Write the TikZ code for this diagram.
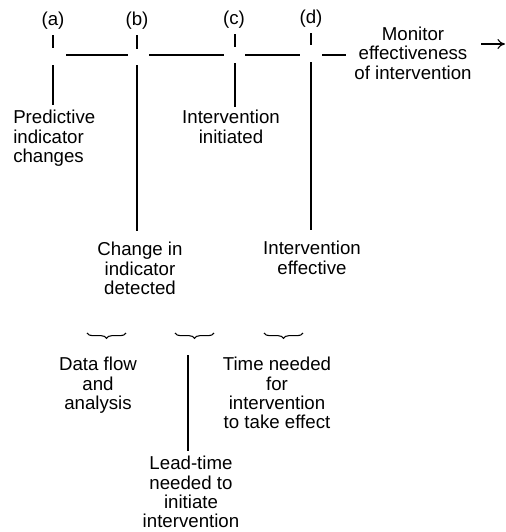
\documentclass[tikz,border=0pt]{standalone}
\usepackage{fontspec}
\setmainfont{Liberation Sans}
\usetikzlibrary{arrows.meta,positioning,calc,decorations.pathreplacing}

\begin{document}
\begin{tikzpicture}[x=0.75pt,y=-0.75pt]

\tikzset{
  lbl/.style  = {inner sep=0pt, font=\fontsize{14}{14.5}\selectfont},
  txt/.style  = {lbl, align=center, anchor=north},
  ln/.style   = {line width=0.8pt},
  stem/.style = {ln, shorten >=4pt},
  brc/.style  = {ln, decorate, decoration={brace, mirror, amplitude=4pt}},
  flow/.style = {ln, -{To[length=2mm,width=2.6mm]}},
}

\useasboundingbox (0,0) rectangle (506,532);

% time points
\node[lbl] (la) at (53,21) {(a)};
\node[lbl] (lb) at (137,21) {(b)};
\node[lbl] (lc) at (234,20) {(c)};
\node[lbl] (ld) at (311,19) {(d)};
\coordinate (xa) at (53,55);
\coordinate (xb) at (137,55);
\coordinate (xc) at (235,55);
\coordinate (xd) at (311,55);
\draw[ln] ($(xa)+(0,-20)$) -- ($(xa)+(0,-7)$);
\draw[ln] ($(xb)+(0,-20)$) -- ($(xb)+(0,-6)$);
\draw[ln] ($(xc)+(0,-21)$) -- ($(xc)+(0,-8)$);
\draw[ln] ($(xd)+(0,-22)$) -- ($(xd)+(0,-10)$);

% monitoring
\node[lbl, align=center] (mon) at (413,53) {Monitor\\effectiveness\\of intervention};
\coordinate (mend) at (505,44);
\draw[flow, shorten <=7pt] (mon.east |- mend) -- (mend);

% time axis
\draw[ln] ($(xa)+(13,0)$) -- ($(xb)+(-9,0)$);
\draw[ln] ($(xb)+(12,0)$) -- ($(xc)+(-11,0)$);
\draw[ln] ($(xc)+(10,0)$) -- ($(xd)+(-11,0)$);
\draw[ln, shorten >=6pt] ($(xd)+(11,0)$) -- (mon.west |- xd);

% events
\node[lbl, align=left, anchor=north west] (pa) at (13,110) {Predictive\\indicator\\changes};
\node[txt] (ia) at (231,110) {Intervention\\initiated};
\node[txt] (cd) at (140,242) {Change in\\indicator\\detected};
\node[txt] (ie) at (312,241) {Intervention\\effective};
\draw[stem] ($(xa)+(0,10)$) -- (xa |- pa.north);
\draw[stem, shorten >=8pt] ($(xb)+(0,10)$) -- (xb |- cd.north);
\draw[stem, shorten >=2pt] ($(xc)+(0,8)$) -- (xc |- ia.north);
\draw[stem, shorten >=8pt] ($(xd)+(0,7)$) -- (xd |- ie.north);

% intervals
\draw[brc] (87,333) -- (126,333);
\draw[brc] (175,333) -- (214,333);
\draw[brc] (264,333) -- (303,333);
\node[txt] (df) at (98,357) {Data flow\\and\\analysis};
\node[txt] (tn) at (277,357) {Time needed\\for\\intervention\\to take effect};
\node[txt] (lt) at (191,456) {Lead-time\\needed to\\initiate\\intervention};
\coordinate (ltop) at (188,355);
\draw[stem] (ltop) -- (ltop |- lt.north);
\end{tikzpicture}
\end{document}
